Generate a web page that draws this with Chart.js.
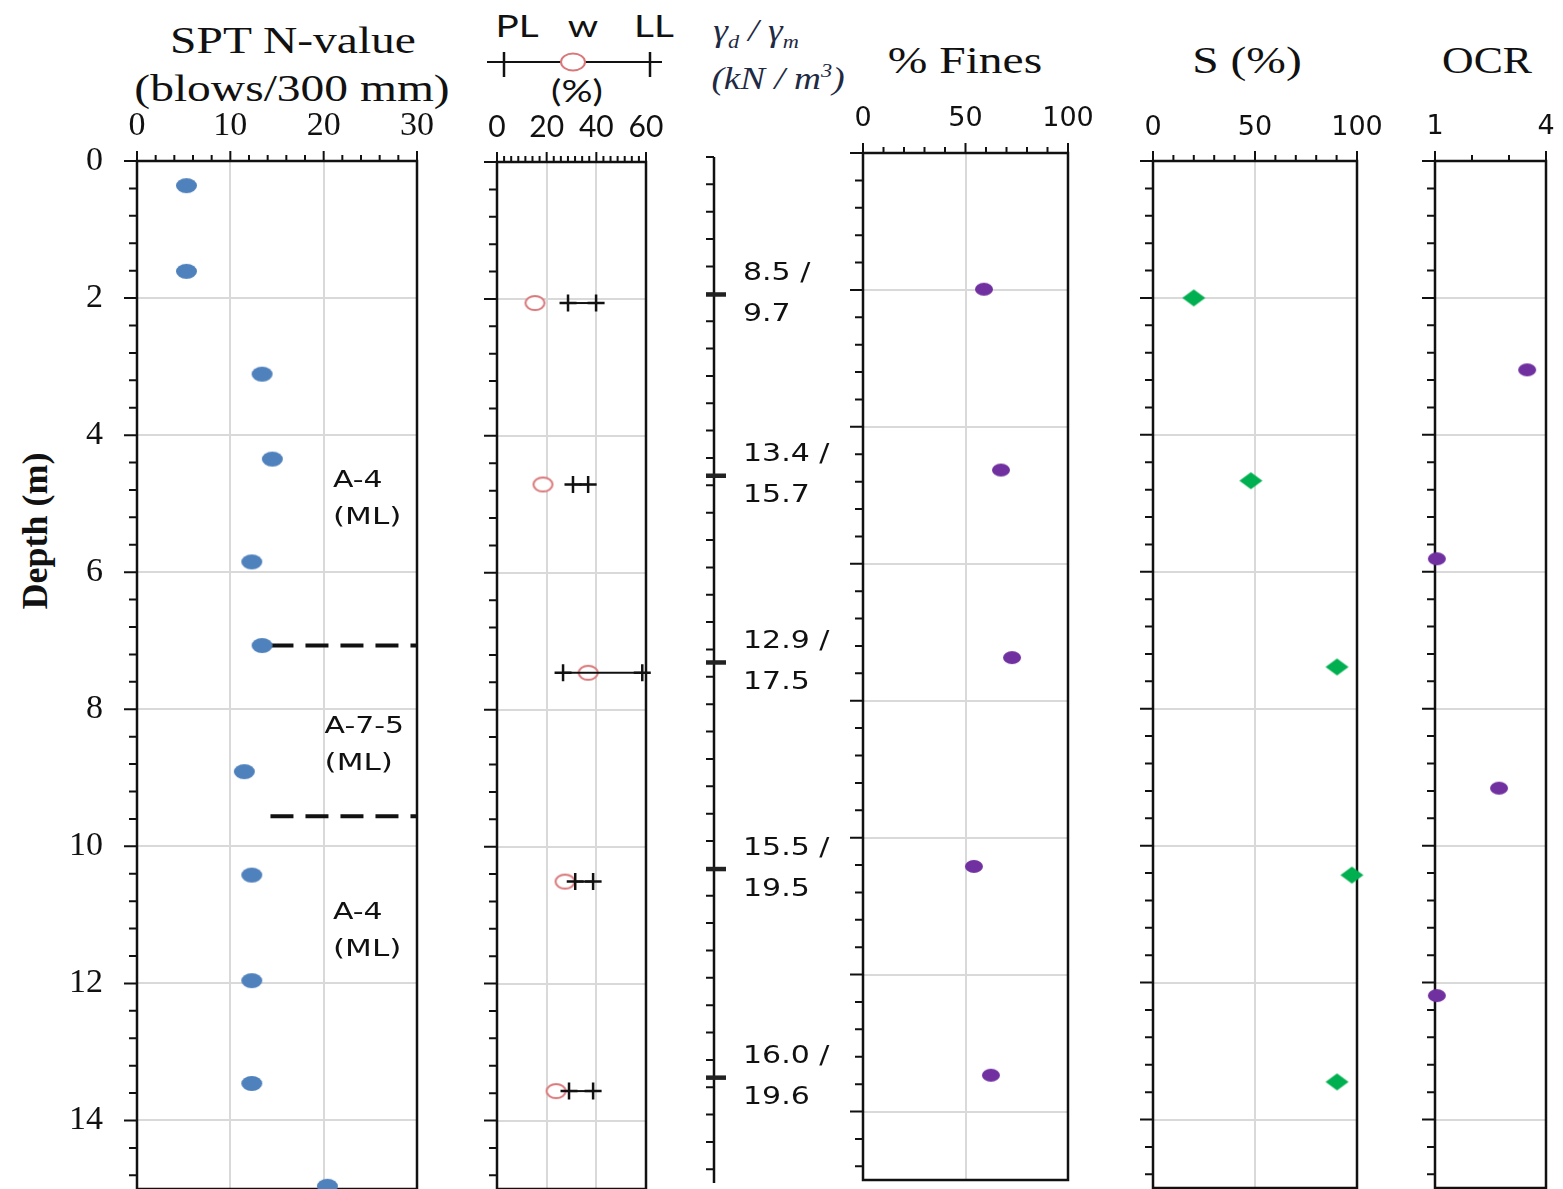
<!DOCTYPE html>
<html>
<head>
<meta charset="utf-8">
<title>Soil profile</title>
<script src="https://cdn.jsdelivr.net/npm/chart.js@4.4.1/dist/chart.umd.min.js"></script>
<style>
  html, body { margin: 0; padding: 0; background: #fff; }
  #wrap { position: relative; width: 1563px; height: 1189px; overflow: hidden; }
  #wrap canvas { position: absolute; }
  .t { position: absolute; white-space: nowrap; line-height: 1; color: #111;
       transform: translate(-50%, -50%) scaleX(1.25); }
  .serif { font-family: "Liberation Serif", "Times New Roman", serif; font-size: 38px; }
  .sans { font-family: Lato, "Open Sans", sans-serif; font-size: 31px; }
  .gam { font-family: "Liberation Serif", serif; font-style: italic; font-size: 31px; color: #1f2a44;
         transform: translate(-50%, -50%) scaleX(1.2); }
  .gam sub, .gam sup { font-size: 0.6em; }
  .depth { font-family: "Liberation Serif", serif; font-weight: bold; font-size: 36px;
           transform: translate(-50%, -50%) rotate(-90deg); }
</style>
</head>
<body>
<div id="wrap">
  <div class="t serif" style="left:293px;top:40px">SPT N-value</div>
  <div class="t serif" style="left:292px;top:88px">(blows/300 mm)</div>
  <div class="t depth" style="left:35px;top:531px">Depth (m)</div>

  <div class="t sans" style="left:517px;top:25px">PL</div>
  <div class="t sans" style="left:583px;top:25px">w</div>
  <div class="t sans" style="left:654px;top:25px">LL</div>
  <svg style="position:absolute;left:480px;top:45px" width="190" height="40">
    <line x1="7" y1="17" x2="182" y2="17" stroke="#111" stroke-width="2"/>
    <line x1="24" y1="7" x2="24" y2="32" stroke="#111" stroke-width="2.5"/>
    <line x1="170" y1="7" x2="170" y2="32" stroke="#111" stroke-width="2.5"/>
    <ellipse cx="93" cy="17" rx="12" ry="8.5" fill="#fff" stroke="#d9777a" stroke-width="2"/>
  </svg>
  <div class="t sans" style="left:577px;top:90px">(%)</div>

  <div class="t gam" style="left:756px;top:33px">γ<sub>d</sub> / γ<sub>m</sub></div>
  <div class="t gam" style="left:778px;top:78px">(<span>kN</span> / m<sup>3</sup>)</div>

  <div class="t serif" style="left:965px;top:60px">% Fines</div>
  <div class="t serif" style="left:1247px;top:60px">S (%)</div>
  <div class="t serif" style="left:1487px;top:60px;transform:translate(-50%,-50%) scaleX(1.15)">OCR</div>
</div>
<script>
// SPT N-value profile
const sptDepth = [0.36, 1.61, 3.11, 4.35, 5.85, 7.07, 8.91, 10.42, 11.96, 13.46, 14.96];
const sptN = [5.3, 5.3, 13.4, 14.5, 12.3, 13.4, 11.5, 12.3, 12.3, 12.3, 20.4];
const boundaryDepth = [7.07, 9.56];
const boundaryStartN = [14.3, 14.3];
const soilClass = ["A-4", "A-7-5", "A-4"];
const soilGroup = ["(ML)", "(ML)", "(ML)"];
const soilLabelDepth = [4.94, 8.53, 11.24];
const soilLabelN = [21.0, 20.1, 21.0];

// Atterberg limits and water content
const limDepth = [2.06, 4.71, 7.46, 10.51, 13.57];
const waterContent = [15.3, 18.5, 36.7, 27.4, 23.8];
const plasticLimit = [28.6, 30.6, 26.6, 31.5, 29.0];
const liquidLimit = [39.9, 36.7, 58.5, 38.7, 38.7];

// unit weights
const unitDepth = [2.01, 4.66, 7.39, 10.41, 13.46];
const gammaDry = [8.5, 13.4, 12.9, 15.5, 16.0];
const gammaMoist = [9.7, 15.7, 17.5, 19.5, 19.6];

// fines, saturation, OCR
const finesDepth = [1.99, 4.63, 7.37, 10.42, 13.47];
const fines = [59.0, 67.3, 72.7, 54.1, 62.4];
const satDepth = [2.0, 4.67, 7.39, 10.43, 13.45];
const saturation = [20.0, 48.0, 90.2, 97.5, 90.2];
const ocrDepth = [3.05, 5.81, 9.16, 12.19];
const ocr = [3.49, 1.05, 2.73, 1.05];

// tick labels
const depthTicks = [0, 2, 4, 6, 8, 10, 12, 14];
const sptTicks = [0, 10, 20, 30];
const limTicks = [0, 20, 40, 60];
const pctTicks = [0, 50, 100];
const ocrTicks = [1, 4];

const INK = "#111";
const GRID = "#d9d9d9";

// markers (the picture is a bit stretched sideways, so ellipses)
function blob(w, h, fill, stroke, lw, diamond) {
  const c = document.createElement("canvas");
  c.width = w + 4; c.height = h + 4;
  const g = c.getContext("2d");
  const cx = c.width / 2, cy = c.height / 2;
  g.beginPath();
  if (diamond) {
    g.moveTo(cx, cy - h / 2); g.lineTo(cx + w / 2, cy); g.lineTo(cx, cy + h / 2); g.lineTo(cx - w / 2, cy);
    g.closePath();
  } else {
    g.ellipse(cx, cy, w / 2, h / 2, 0, 0, Math.PI * 2);
  }
  if (fill) { g.fillStyle = fill; g.fill(); }
  if (stroke) { g.strokeStyle = stroke; g.lineWidth = lw; g.stroke(); }
  return c;
}
const dotBlue = blob(21, 15, "#4f81bd");
const dotPurple = blob(18, 13, "#7030a0");
const ringRed = blob(19, 14, "#fff", "#d9777a", 2);
const diaGreen = blob(23, 17, "#00b050", null, 0, true);

function pts(xs, ys) { return xs.map((v, i) => ({ x: v, y: ys[i] })); }

function eachMark(min, max, major, minor, fn) {
  const n = Math.floor((max - min) / minor + 1e-6);
  for (let k = 0; k <= n; k++) {
    const v = min + k * minor;
    const q = (v - min) / major;
    fn(v, Math.abs(q - Math.round(q)) < 1e-6);
  }
}

// box + outside tick marks (major and minor)
function frame(cfg) {
  return {
    id: "frame",
    beforeDatasetsDraw(chart) {
      const { ctx, chartArea: a, scales } = chart;
      ctx.save();
      ctx.strokeStyle = INK;
      ctx.lineCap = "butt";
      ctx.lineWidth = 2.5;
      ctx.beginPath();
      if (cfg.box) {
        ctx.rect(a.left, a.top, a.right - a.left, a.bottom - a.top);
      } else {
        ctx.moveTo(a.left, a.top); ctx.lineTo(a.left, a.bottom);
      }
      ctx.stroke();
      ctx.lineWidth = 2;
      ctx.beginPath();
      if (cfg.x) {
        const s = scales.x;
        eachMark(s.min, s.max, cfg.x[0], cfg.x[1], (v, big) => {
          const p = s.getPixelForValue(v);
          ctx.moveTo(p, a.top); ctx.lineTo(p, a.top - (big ? 10 : 6));
        });
      }
      if (cfg.y) {
        const s = scales.y;
        eachMark(0, 15, cfg.y[0], cfg.y[1], (v, big) => {
          const p = s.getPixelForValue(v);
          ctx.moveTo(a.left, p); ctx.lineTo(a.left - (big ? cfg.yLen[0] : cfg.yLen[1]), p);
        });
      }
      ctx.stroke();
      ctx.restore();
    }
  };
}

function wideText(ctx, str, x, y, sx) {
  ctx.save();
  ctx.translate(x, y);
  ctx.scale(sx, 1);
  ctx.fillText(str, 0, 0);
  ctx.restore();
}

const soilLabels = {
  id: "soilLabels",
  afterDatasetsDraw(chart) {
    const { ctx, scales: { x, y } } = chart;
    ctx.save();
    ctx.font = '23px "DejaVu Sans"';
    ctx.fillStyle = INK;
    ctx.textAlign = "left";
    ctx.textBaseline = "middle";
    soilClass.forEach((c, i) => {
      const px = x.getPixelForValue(soilLabelN[i]);
      const py = y.getPixelForValue(soilLabelDepth[i]);
      wideText(ctx, c, px, py - 18.5, 1.3);
      wideText(ctx, soilGroup[i], px, py + 18.5, 1.35);
    });
    ctx.restore();
  }
};

const gammaLabels = {
  id: "gammaLabels",
  afterDatasetsDraw(chart) {
    const { ctx, chartArea: a, scales: { y } } = chart;
    ctx.save();
    ctx.font = '25px "DejaVu Sans"';
    ctx.fillStyle = INK;
    ctx.textAlign = "left";
    ctx.textBaseline = "middle";
    unitDepth.forEach((d, i) => {
      const py = y.getPixelForValue(d);
      wideText(ctx, gammaDry[i].toFixed(1) + " /", a.left + 29, py - 21, 1.2);
      wideText(ctx, gammaMoist[i].toFixed(1), a.left + 29, py + 20, 1.2);
    });
    ctx.restore();
  }
};

// one chart per column; pad = [top, right, bottom, left] around the plot box
function panel(p) {
  const [pt, pr, pb, pl] = p.pad;
  const cv = document.createElement("canvas");
  cv.width = p.w + pl + pr;
  cv.height = p.h + pt + pb;
  cv.style.left = (p.x - pl) + "px";
  cv.style.top = (p.y - pt) + "px";
  document.getElementById("wrap").appendChild(cv);
  return new Chart(cv, {
    type: "scatter",
    data: { datasets: p.datasets },
    options: {
      responsive: false,
      animation: false,
      devicePixelRatio: 1,
      layout: { padding: { top: 0, left: 0, right: pr, bottom: pb } },
      plugins: { legend: { display: false }, tooltip: { enabled: false } },
      scales: {
        x: {
          type: "linear", position: "top", min: p.xMin, max: p.xMax,
          afterBuildTicks: s => { s.ticks = p.xTicks.map(v => ({ value: v })); },
          afterFit: s => { s.height = pt; },
          ticks: { display: !!p.xFont, font: p.xFont, color: INK, padding: p.xPad || 0, maxRotation: 0, autoSkip: false },
          grid: { color: p.xGrid ? GRID : "transparent", lineWidth: 2, drawTicks: false, tickLength: 0 },
          border: { display: false }
        },
        y: {
          type: "linear", reverse: true, min: 0, max: 15,
          afterBuildTicks: s => { s.ticks = depthTicks.map(v => ({ value: v })); },
          afterFit: s => { s.width = pl; },
          ticks: { display: !!p.yFont, font: p.yFont, color: INK, padding: p.yPad || 0 },
          grid: { color: p.yGrid ? GRID : "transparent", lineWidth: 2, drawTicks: false, tickLength: 0 },
          border: { display: false }
        }
      }
    },
    plugins: [frame(p.frame)].concat(p.extra || [])
  });
}

const serifTick = { family: "Liberation Serif", size: 34 };
const sansTick = { family: "DejaVu Sans", size: 27 };

// SPT N-value
panel({
  x: 137, y: 161, w: 280, h: 1028, pad: [70, 50, 60, 130],
  xMin: 0, xMax: 30, xTicks: sptTicks, xFont: serifTick, xPad: 15, xGrid: true,
  yFont: serifTick, yPad: 34, yGrid: true,
  frame: { box: true, x: [10, 2], y: [2, 0.4], yLen: [13, 8] },
  extra: [soilLabels],
  datasets: [
    { data: pts(sptN, sptDepth), pointStyle: dotBlue, pointRadius: 10, clip: false },
    ...boundaryDepth.map((d, i) => ({
      data: [{ x: boundaryStartN[i], y: d }, { x: 30, y: d }],
      showLine: true, borderColor: INK, borderWidth: 4, borderDash: [23, 12],
      pointRadius: 0, clip: false
    }))
  ]
});

// PL / w / LL
panel({
  x: 497, y: 162, w: 149, h: 1027, pad: [70, 50, 60, 40],
  xMin: 0, xMax: 60, xTicks: limTicks, xFont: { family: "Lato", size: 30 }, xPad: 17, xGrid: true,
  yGrid: true,
  frame: { box: true, x: [20, 20 / 7], y: [2, 0.4], yLen: [13, 8] },
  datasets: [
    ...liquidLimit.map((ll, i) => ({
      data: [{ x: plasticLimit[i], y: limDepth[i] }, { x: ll, y: limDepth[i] }],
      showLine: true, borderColor: INK, borderWidth: 2,
      pointStyle: "cross", pointRadius: 8.5, pointBorderWidth: 2.5, pointBorderColor: INK, clip: false
    })),
    { data: pts(waterContent, limDepth), pointStyle: ringRed, pointRadius: 10, clip: false }
  ]
});

// unit weights column
panel({
  x: 714, y: 157, w: 20, h: 1026, pad: [40, 160, 60, 40],
  xMin: 0, xMax: 1, xTicks: [0],
  frame: { box: false, y: [0.4, 0.4], yLen: [8, 8] },
  extra: [gammaLabels],
  datasets: [
    { data: unitDepth.map(d => ({ x: 0.1, y: d })), pointStyle: "line", pointRadius: 10,
      pointBorderWidth: 4.5, pointBorderColor: "#222", clip: false }
  ]
});

// % fines
panel({
  x: 863, y: 153, w: 205, h: 1027, pad: [70, 60, 60, 40],
  xMin: 0, xMax: 100, xTicks: pctTicks, xFont: sansTick, xPad: 18, xGrid: true,
  yGrid: true,
  frame: { box: true, x: [50, 10], y: [2, 0.4], yLen: [13, 8] },
  datasets: [
    { data: pts(fines, finesDepth), pointStyle: dotPurple, pointRadius: 10, clip: false }
  ]
});

// degree of saturation
panel({
  x: 1153, y: 161, w: 204, h: 1027, pad: [70, 60, 60, 40],
  xMin: 0, xMax: 100, xTicks: pctTicks, xFont: sansTick, xPad: 17, xGrid: true,
  yGrid: true,
  frame: { box: true, x: [50, 10], y: [2, 0.4], yLen: [13, 8] },
  datasets: [
    { data: pts(saturation, satDepth), pointStyle: diaGreen, pointRadius: 10, clip: false }
  ]
});

// OCR
panel({
  x: 1435, y: 161, w: 111, h: 1027, pad: [70, 40, 60, 40],
  xMin: 1, xMax: 4, xTicks: ocrTicks, xFont: sansTick, xPad: 18, xGrid: false,
  yGrid: true,
  frame: { box: true, x: [3, 1], y: [2, 0.4], yLen: [13, 8] },
  datasets: [
    { data: pts(ocr, ocrDepth), pointStyle: dotPurple, pointRadius: 10, clip: false }
  ]
});
</script>
</body>
</html>
